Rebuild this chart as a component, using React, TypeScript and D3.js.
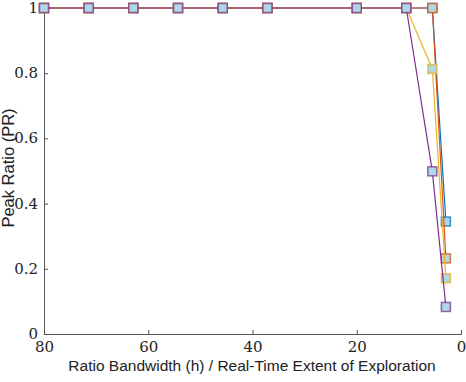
import { useEffect, useRef } from "react";
import * as d3 from "d3";

// x positions (h) shared by every series
const xValues = [80, 71.43, 62.86, 54.29, 45.71, 37.14, 20, 10.5, 5.5, 2.9];

const seriesBlue = [1, 1, 1, 1, 1, 1, 1, 1, 1, 0.345];
const seriesOrange = [1, 1, 1, 1, 1, 1, 1, 1, 1, 0.232];
const seriesYellow = [1, 1, 1, 1, 1, 1, 1, 1, 0.813, 0.171];
const seriesPurple = [1, 1, 1, 1, 1, 1, 1, 1, 0.499, 0.083];

const seriesColors = ["#0072BD", "#D95319", "#EDB120", "#7E2F8E"];

const xTicks = [80, 60, 40, 20, 0];
const yTicks = [0, 0.2, 0.4, 0.6, 0.8, 1];

export default function App() {
  const ref = useRef<SVGSVGElement>(null);

  useEffect(() => {
    const W = 466;
    const H = 382;
    const margin = { top: 8, right: 5, bottom: 48, left: 44 };

    const svg = d3.select(ref.current);
    svg.selectAll("*").remove();

    const x = d3
      .scaleLinear()
      .domain([80, 0])
      .range([margin.left, W - margin.right]);
    const y = d3
      .scaleLinear()
      .domain([0, 1])
      .range([H - margin.bottom, margin.top]);

    const axisColor = "#555";
    const tickFont = "'DejaVu Serif', 'Liberation Serif', serif";

    // x axis
    const gx = svg
      .append("g")
      .attr("transform", `translate(0,${H - margin.bottom})`)
      .call(d3.axisBottom(x).tickValues(xTicks).tickSize(-4).tickPadding(7).tickFormat(d3.format("d")));
    gx.attr("font-family", null).attr("font-size", null);
    gx.select(".domain").attr("stroke", axisColor);
    gx.selectAll(".tick line").attr("stroke", axisColor);
    gx.selectAll(".tick text")
      .attr("fill", "#222")
      .attr("style", `font-family: ${tickFont}; font-size: 15px`);

    // y axis
    const gy = svg
      .append("g")
      .attr("transform", `translate(${margin.left},0)`)
      .call(
        d3
          .axisLeft(y)
          .tickValues(yTicks)
          .tickSize(-4)
          .tickPadding(6)
          .tickFormat((d) => (d === 0 || d === 1 ? String(d) : d3.format(".1f")(d as number)))
      );
    gy.attr("font-family", null).attr("font-size", null);
    gy.select(".domain").attr("stroke", axisColor);
    gy.selectAll(".tick line").attr("stroke", axisColor);
    gy.selectAll(".tick text")
      .attr("fill", "#222")
      .attr("dy", "0.3em")
      .attr("style", `font-family: ${tickFont}; font-size: 15px`);

    // labels
    svg
      .append("text")
      .attr("x", 252)
      .attr("y", 371)
      .attr("text-anchor", "middle")
      .attr("style", "font-family: 'Liberation Sans', Arial, sans-serif; font-size: 15.5px")
      .attr("fill", "#222")
      .text("Ratio Bandwidth (h) / Real-Time Extent of Exploration");

    svg
      .append("text")
      .attr("transform", "translate(14,168) rotate(-90)")
      .attr("text-anchor", "middle")
      .attr("style", "font-family: 'Liberation Sans', Arial, sans-serif; font-size: 16.5px")
      .attr("fill", "#222")
      .text("Peak Ratio (PR)");

    const allSeries = [seriesBlue, seriesOrange, seriesYellow, seriesPurple];
    const line = d3
      .line<number>()
      .x((_, i) => x(xValues[i]))
      .y((d) => y(d));

    allSeries.forEach((s, k) => {
      const g = svg.append("g");
      g.append("path")
        .attr("d", line(s))
        .attr("fill", "none")
        .attr("stroke", seriesColors[k])
        .attr("stroke-width", 1.2);
      g.selectAll("rect")
        .data(s)
        .enter()
        .append("rect")
        .attr("x", (_, i) => x(xValues[i]) - 4.5)
        .attr("y", (d) => y(d) - 4.5)
        .attr("width", 9)
        .attr("height", 9)
        .attr("fill", "#ADD8E6")
        .attr("stroke", seriesColors[k])
        .attr("stroke-opacity", 0.75)
        .attr("stroke-width", 1.5);
    });
  }, []);

  return (
    <svg
      ref={ref}
      width={466}
      height={382}
      style={{ position: "absolute", left: 0, top: 0, background: "#fff" }}
    />
  );
}
